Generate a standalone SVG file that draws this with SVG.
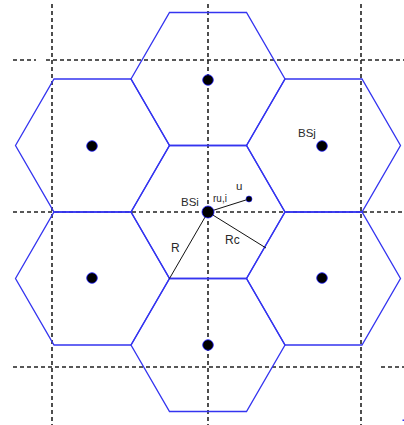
<svg xmlns="http://www.w3.org/2000/svg" width="404" height="425" viewBox="0 0 404 425">
<style>
.hex{fill:none;stroke:#3434f0;stroke-width:1.3;stroke-linejoin:miter}
.grid{stroke:#222;stroke-width:1.6;stroke-dasharray:4 3;fill:none}
.bs{fill:#000;stroke:#1a1aff;stroke-width:0.8}
.ln{stroke:#111;stroke-width:1;fill:none}
.lbl{font-family:"Liberation Sans",Arial,sans-serif;font-size:11.5px;fill:#2a2a2a}
</style>
<rect width="404" height="425" fill="#fff"/>
<g id="grid">
<path class="grid" d="M13 60H36M46 60H404M13 212H404M13 367H362M381 367H404"/>
<path class="grid" d="M52 4V425M208 4V425M361 4V425"/>
</g>
<g id="cell-top"><polygon class="hex" points="131,79 169.5,12.5 246.5,12.5 285,79 246.5,145.5 169.5,145.5"/><circle class="bs" cx="208" cy="80" r="5.3"/></g>
<g id="cell-upper-left"><polygon class="hex" points="15.5,145.5 54,79 131,79 169.5,145.5 131,212 54,212"/><circle class="bs" cx="92" cy="146" r="5.3"/></g>
<g id="cell-upper-right"><polygon class="hex" points="246.5,145.5 285,79 362,79 400.5,145.5 362,212 285,212"/><circle class="bs" cx="322" cy="146" r="5.3"/><text class="lbl" x="298" y="137">BSj</text></g>
<g id="cell-center"><polygon class="hex" points="131,212 169.5,145.5 246.5,145.5 285,212 246.5,278.5 169.5,278.5"/></g>
<g id="cell-lower-left"><polygon class="hex" points="15.5,278.5 54,212 131,212 169.5,278.5 131,345 54,345"/><circle class="bs" cx="92" cy="278" r="5.3"/></g>
<g id="cell-lower-right"><polygon class="hex" points="246.5,278.5 285,212 362,212 400.5,278.5 362,345 285,345"/><circle class="bs" cx="322" cy="278" r="5.3"/></g>
<g id="cell-bottom"><polygon class="hex" points="131,345 169.5,278.5 246.5,278.5 285,345 246.5,411.5 169.5,411.5"/><circle class="bs" cx="208" cy="345" r="5.3"/></g>
<g id="connectors">
<line class="ln" x1="208" y1="212" x2="249" y2="199"/>
<line class="ln" x1="208" y1="212" x2="169.5" y2="278.5"/>
<line class="ln" x1="208" y1="212" x2="266" y2="248"/>
</g>
<g id="bsi"><circle class="bs" cx="208" cy="212" r="6"/><text class="lbl" x="181" y="206">BSi</text></g>
<g id="user"><circle cx="249" cy="199" r="3" fill="#000" stroke="#1a1aff" stroke-width="0.6"/><text class="lbl" x="236" y="190">u</text></g>
<text class="lbl" x="213" y="202" style="font-size:10px">ru,i</text>
<text class="lbl" x="171" y="252" style="font-size:12px">R</text>
<text class="lbl" x="225" y="244" style="font-size:12px">Rc</text>
<rect x="402.5" y="419.5" width="1.5" height="1.5" fill="#3434f0"/>
</svg>
